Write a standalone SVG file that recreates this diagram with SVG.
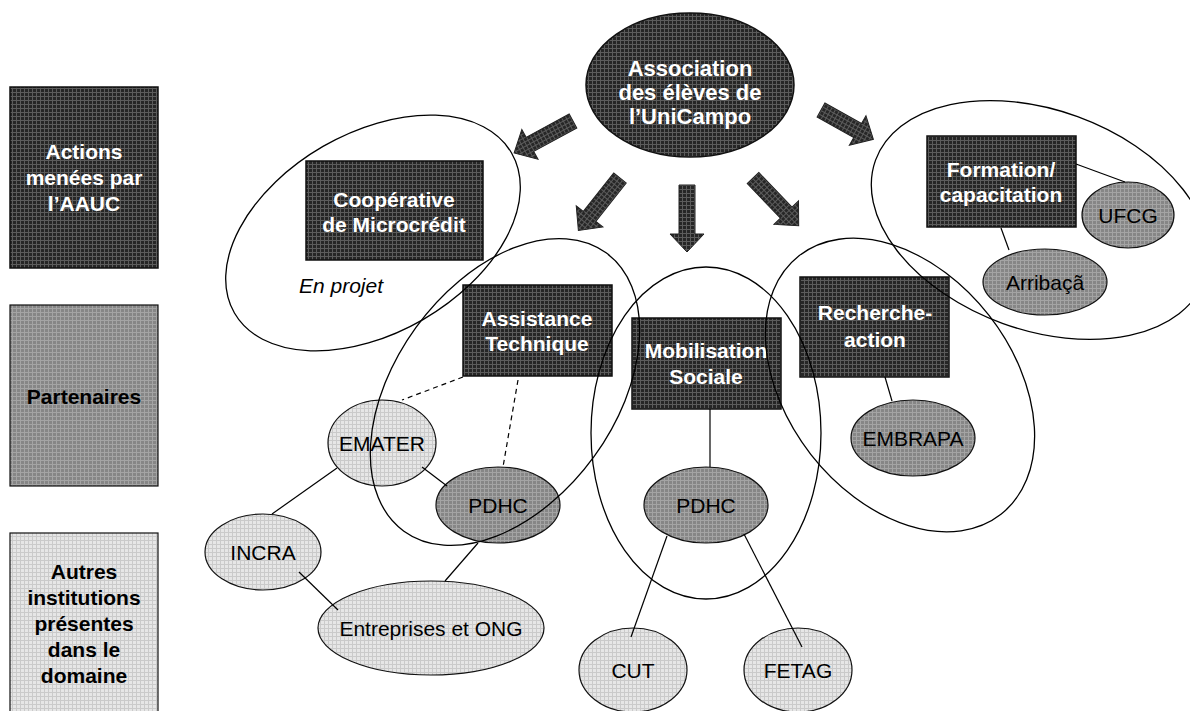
<svg xmlns="http://www.w3.org/2000/svg" width="1190" height="711" viewBox="0 0 1190 711">
<defs>
<pattern id="pd" width="4" height="4" patternUnits="userSpaceOnUse"><rect width="4" height="4" fill="#262626"/><path d="M0 0.5H4M0.5 0V4" stroke="#5c5c5c" stroke-width="1"/></pattern>
<pattern id="pm" width="4" height="4" patternUnits="userSpaceOnUse"><rect width="4" height="4" fill="#868686"/><path d="M0 0.5H4M0.5 0V4" stroke="#a4a4a4" stroke-width="1"/></pattern>
<pattern id="pl" width="4" height="4" patternUnits="userSpaceOnUse"><rect width="4" height="4" fill="#e6e6e6"/><path d="M0 0.5H4M0.5 0V4" stroke="#cacaca" stroke-width="1"/></pattern>
<style>
.dk{fill:url(#pd);stroke:#111;stroke-width:1.5}
.md{fill:url(#pm);stroke:#111;stroke-width:1.2}
.lt{fill:url(#pl);stroke:#111;stroke-width:1.2}
.arr{fill:url(#pd);stroke:#222;stroke-width:1}
.wt{font-family:"Liberation Sans",Arial,sans-serif;font-weight:bold;font-size:21px;fill:#fff;text-anchor:middle}
.bt{font-family:"Liberation Sans",Arial,sans-serif;font-weight:bold;font-size:21px;fill:#000;text-anchor:middle}
.rt{font-family:"Liberation Sans",Arial,sans-serif;font-size:21px;fill:#000;text-anchor:middle}
.it{font-family:"Liberation Sans",Arial,sans-serif;font-style:italic;font-size:21px;fill:#000}
.ln{stroke:#000;stroke-width:1.2;fill:none}
.ds{stroke:#000;stroke-width:1.2;fill:none;stroke-dasharray:5,4}
.cl{stroke:#000;stroke-width:1.3;fill:none}
</style>
</defs>
<rect width="1190" height="711" fill="#fff"/>

<g id="legend-actions"><rect class="dk" x="10" y="87" width="148" height="181"/>
<text class="wt" x="84" y="159">Actions</text><text class="wt" x="84" y="185">menées par</text><text class="wt" x="84" y="211">l’AAUC</text></g>
<g id="legend-partenaires"><rect class="md" x="10" y="305" width="148" height="181"/>
<text class="bt" x="84" y="404">Partenaires</text></g>
<g id="legend-autres"><rect class="lt" x="10" y="533" width="148" height="190"/>
<text class="bt" x="84" y="579">Autres</text><text class="bt" x="84" y="605">institutions</text><text class="bt" x="84" y="631">présentes</text><text class="bt" x="84" y="657">dans le</text><text class="bt" x="84" y="683">domaine</text></g>

<g id="arrows">
<polygon class="arr" transform="translate(573,121) rotate(151.5)" points="0,-8 49,-8 49,-17 67,0 49,17 49,8 0,8"/>
<polygon class="arr" transform="translate(620,178) rotate(128.4)" points="0,-8 49,-8 49,-17 67,0 49,17 49,8 0,8"/>
<polygon class="arr" transform="translate(687,185) rotate(90)" points="0,-8 49,-8 49,-17 67,0 49,17 49,8 0,8"/>
<polygon class="arr" transform="translate(753,178) rotate(46.2)" points="0,-8 48,-8 48,-17 66,0 48,17 48,8 0,8"/>
<polygon class="arr" transform="translate(821,110) rotate(29.2)" points="0,-8 42,-8 42,-17 60,0 42,17 42,8 0,8"/>
</g>

<g id="association"><ellipse class="dk" cx="690" cy="85" rx="104" ry="72"/>
<text class="wt" style="font-size:22px" x="690" y="76">Association</text><text class="wt" style="font-size:22px" x="690" y="100">des élèves de</text><text class="wt" style="font-size:22px" x="690" y="124">l’UniCampo</text></g>

<g id="cooperative"><rect class="dk" x="306" y="161" width="177" height="99"/>
<text class="wt" x="394" y="207">Coopérative</text><text class="wt" x="394" y="232">de Microcrédit</text></g>
<g id="en-projet"><text class="it" x="299" y="293">En projet</text></g>

<g id="assistance"><rect class="dk" x="463" y="285" width="149" height="91"/>
<text class="wt" x="537" y="326">Assistance</text><text class="wt" x="537" y="351">Technique</text></g>

<g id="mobilisation"><rect class="dk" x="632" y="318" width="149" height="91"/>
<text class="wt" x="706" y="358">Mobilisation</text><text class="wt" x="706" y="384">Sociale</text></g>

<g id="recherche"><rect class="dk" x="800" y="277" width="149" height="100"/>
<text class="wt" x="875" y="320">Recherche-</text><text class="wt" x="875" y="347">action</text></g>

<g id="formation"><rect class="dk" x="927" y="136" width="149" height="91"/>
<text class="wt" x="1001" y="177">Formation/</text><text class="wt" x="1001" y="202">capacitation</text></g>

<g id="ufcg"><ellipse class="md" cx="1128" cy="215" rx="46" ry="33"/><text class="rt" x="1128" y="223">UFCG</text></g>
<g id="arribaca"><ellipse class="md" cx="1045" cy="282" rx="62" ry="33"/><text class="rt" x="1045" y="290">Arribaçã</text></g>
<g id="embrapa"><ellipse class="md" cx="913" cy="438" rx="62" ry="38"/><text class="rt" x="913" y="446">EMBRAPA</text></g>
<g id="pdhc-mob"><ellipse class="md" cx="706" cy="505" rx="62" ry="38"/><text class="rt" x="706" y="513">PDHC</text></g>
<g id="pdhc-ass"><ellipse class="md" cx="498" cy="505" rx="62" ry="38"/><text class="rt" x="498" y="513">PDHC</text></g>
<g id="emater"><ellipse class="lt" cx="382" cy="443" rx="54" ry="43"/><text class="rt" x="382" y="451">EMATER</text></g>
<g id="incra"><ellipse class="lt" cx="263" cy="552" rx="58" ry="38"/><text class="rt" x="263" y="560">INCRA</text></g>
<g id="entreprises"><ellipse class="lt" cx="431" cy="628" rx="113" ry="47"/><text class="rt" x="431" y="636">Entreprises et ONG</text></g>
<g id="cut"><ellipse class="lt" cx="633" cy="670" rx="54" ry="42"/><text class="rt" x="633" y="678">CUT</text></g>
<g id="fetag"><ellipse class="lt" cx="798" cy="670" rx="54" ry="42"/><text class="rt" x="798" y="678">FETAG</text></g>

<g id="connectors">
<line class="ds" x1="463" y1="377" x2="402" y2="400"/>
<line class="ds" x1="518" y1="380" x2="503" y2="467"/>
<line class="ln" x1="337" y1="468" x2="272" y2="514"/>
<line class="ln" x1="422" y1="467" x2="447" y2="486"/>
<line class="ln" x1="299" y1="572" x2="338" y2="610"/>
<line class="ln" x1="478" y1="543" x2="445" y2="581"/>
<line class="ln" x1="710" y1="409" x2="710" y2="467"/>
<line class="ln" x1="667" y1="536" x2="631" y2="637"/>
<line class="ln" x1="744" y1="534" x2="802" y2="647"/>
<line class="ln" x1="885" y1="377" x2="892" y2="401"/>
<line class="ln" x1="1076" y1="164" x2="1125" y2="182"/>
<line class="ln" x1="1001" y1="228" x2="1009" y2="250"/>
</g>

<g id="clusters">
<ellipse class="cl" cx="373" cy="233" rx="160" ry="100" transform="rotate(-30 373 233)"/>
<ellipse class="cl" cx="505" cy="392" rx="172" ry="110" transform="rotate(-54 505 392)"/>
<ellipse class="cl" cx="706" cy="433" rx="115" ry="166"/>
<ellipse class="cl" cx="900" cy="385" rx="164" ry="113" transform="rotate(52 900 385)"/>
<ellipse class="cl" cx="1040" cy="220" rx="175" ry="110" transform="rotate(20 1040 220)"/>
</g>
</svg>
